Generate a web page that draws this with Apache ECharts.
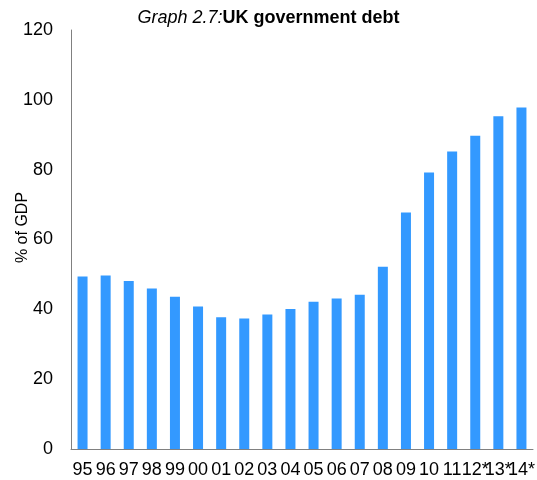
<!DOCTYPE html>
<html>
<head>
<meta charset="utf-8">
<script src="https://cdn.jsdelivr.net/npm/echarts@6/dist/echarts.min.js"></script>
<style>html,body{margin:0;padding:0;background:#fff;}#c{width:537px;height:480px;}</style>
</head>
<body>
<div id="c"></div>
<script>
var categories = ['95','96','97','98','99','00','01','02','03','04','05','06','07','08','09','10','11','12*','13*','14*'];
var debtValues = [49.4,49.7,48.1,46.0,43.6,40.8,37.7,37.4,38.5,40.1,42.2,43.1,44.2,52.2,67.7,79.2,85.2,89.7,95.3,97.8];
var yTicks = {min: 0, max: 120, interval: 20};

var chart = echarts.init(document.getElementById('c'), null, {renderer: 'canvas'});
chart.setOption({
  animation: false,
  backgroundColor: '#ffffff',
  title: {
    text: '{i|Graph 2.7:}{b|UK government debt}',
    left: 'center',
    top: 4,
    textStyle: {
      fontWeight: 'normal',
      rich: {
        i: {fontFamily: 'Liberation Sans, Arial', fontSize: 18, fontStyle: 'italic', fontWeight: 'normal', color: '#000'},
        b: {fontFamily: 'Liberation Sans, Arial', fontSize: 18, fontWeight: 'bold', color: '#000'}
      }
    }
  },
  grid: {left: 71, right: 4, top: 30, bottom: 31, containLabel: false, outerBoundsMode: 'none'},
  xAxis: {
    type: 'category',
    data: categories,
    axisLine: {lineStyle: {color: '#808080', width: 1}},
    axisTick: {show: false},
    axisLabel: {interval: 0, color: '#000', fontFamily: 'Liberation Sans, Arial', fontSize: 18, margin: 12}
  },
  yAxis: {
    type: 'value',
    min: yTicks.min, max: yTicks.max, interval: yTicks.interval,
    name: '% of GDP',
    nameLocation: 'middle',
    nameGap: 40,
    nameMoveOverlap: false,
    nameTextStyle: {color: '#000', fontFamily: 'Liberation Sans, Arial', fontSize: 16, padding: [0,0,0,24]},
    axisLine: {show: true, lineStyle: {color: '#808080', width: 1}},
    axisTick: {show: false},
    splitLine: {show: false},
    axisLabel: {color: '#000', fontFamily: 'Liberation Sans, Arial', fontSize: 18, margin: 18}
  },
  series: [{
    type: 'bar',
    data: debtValues,
    barWidth: 10,
    itemStyle: {color: '#3399ff'}
  }]
});
</script>
</body>
</html>
